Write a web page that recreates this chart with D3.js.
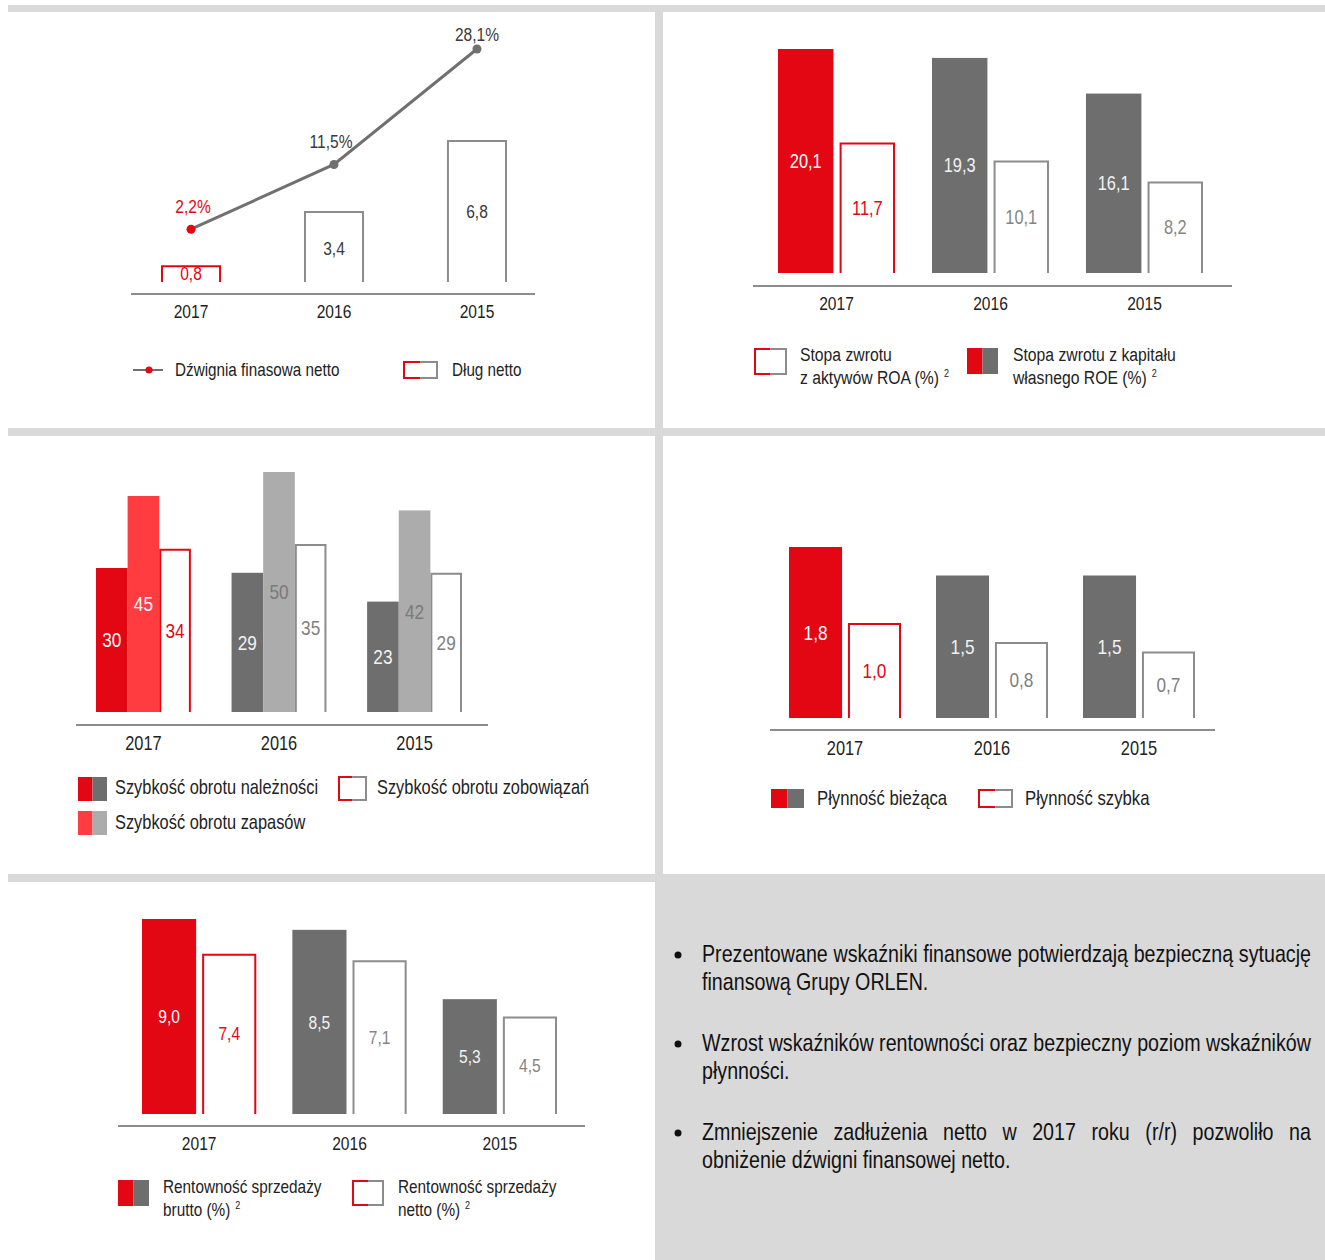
<!DOCTYPE html>
<html><head><meta charset="utf-8">
<script src="https://cdn.jsdelivr.net/npm/d3@7"></script>
<style>
html,body{margin:0;padding:0;background:#fff;}
svg text{font-family:"Liberation Sans",Arial,sans-serif;}
</style></head>
<body>
<svg id="c" width="1325" height="1260"></svg>
<script>
// ---------- DATA ----------
const years = ["2017", "2016", "2015"];
// Panel 1
const netDebt = [0.8, 3.4, 6.8];
const netLeverage = [2.2, 11.5, 28.1];
// Panel 2
const roe = [20.1, 19.3, 16.1];
const roa = [11.7, 10.1, 8.2];
// Panel 3
const receivablesTurnover = [30, 29, 23];
const inventoryTurnover = [45, 50, 42];
const payablesTurnover = [34, 35, 29];
// Panel 4
const currentLiquidity = [1.8, 1.5, 1.5];
const quickLiquidity = [1.0, 0.8, 0.7];
// Panel 5
const grossMargin = [9.0, 8.5, 5.3];
const netMargin = [7.4, 7.1, 4.5];
// Texts
const bullets = [
  ["Prezentowane wskaźniki finansowe potwierdzają bezpieczną sytuację", "finansową Grupy ORLEN."],
  ["Wzrost wskaźników rentowności oraz bezpieczny poziom wskaźników", "płynności."],
  ["Zmniejszenie zadłużenia netto w 2017 roku (r/r) pozwoliło na", "obniżenie dźwigni finansowej netto."]
];

// ---------- STYLE ----------
const RED = "#e30613", LRED = "#ff3c40", DGREY = "#6e6e6e", LGREY = "#acacac",
      OGREY = "#8c8c8c", AXIS = "#8c8c8c", TXT = "#222", BAND = "#d9d9d9";
const SX = 0.82; // horizontal condensation (Arial Narrow look)
const f1 = v => d3.format(".1f")(v).replace(".", ",");
const f0 = v => d3.format("d")(v);

const svg = d3.select("#c");

function ntext(g, x, y, size, fill, anchor) {
  return g.append("text")
    .attr("transform", `translate(${x},${y}) scale(${SX},1)`)
    .attr("font-size", size).attr("fill", fill)
    .attr("text-anchor", anchor || "start");
}

// background bands
svg.append("rect").attr("x", 8).attr("y", 5).attr("width", 1317).attr("height", 7).attr("fill", BAND);
svg.append("rect").attr("x", 655).attr("y", 12).attr("width", 8).attr("height", 1248).attr("fill", BAND);
svg.append("rect").attr("x", 8).attr("y", 428).attr("width", 1317).attr("height", 8).attr("fill", BAND);
svg.append("rect").attr("x", 8).attr("y", 874).attr("width", 1317).attr("height", 8).attr("fill", BAND);
svg.append("rect").attr("x", 655).attr("y", 874).attr("width", 670).attr("height", 386).attr("fill", BAND);

function outlinePath(g, x, w, top, base, color) {
  g.append("path")
    .attr("d", `M${x + 1},${base} L${x + 1},${top + 1} L${x + w - 1},${top + 1} L${x + w - 1},${base}`)
    .attr("fill", "#fff").attr("stroke", color).attr("stroke-width", 2);
}

function axisAndYears(x, ax0, ax1, ay, size) {
  svg.append("line").attr("x1", ax0).attr("x2", ax1).attr("y1", ay).attr("y2", ay)
    .attr("stroke", AXIS).attr("stroke-width", 2);
  const g = svg.append("g").attr("transform", `translate(0,${ay + 3})`)
    .call(d3.axisBottom(x).tickSize(0).tickPadding(8));
  g.select(".domain").remove();
  g.selectAll("text").attr("font-size", size).attr("fill", TXT)
    .attr("transform", `scale(${SX},1)`)
    .style("font-family", '"Liberation Sans",Arial,sans-serif');
}

function groupedPanel(cfg) {
  const x = d3.scaleBand().domain(years).range([cfg.x0, cfg.x1]).paddingInner(cfg.pad).paddingOuter(0);
  const inner = d3.scaleBand().domain(d3.range(cfg.series.length)).range([0, x.bandwidth()])
    .paddingInner(cfg.innerPad).paddingOuter(0);
  const y = d3.scaleLinear().domain([0, cfg.max]).range([cfg.base, cfg.top]);
  const g = svg.append("g");
  cfg.series.forEach((s, si) => {
    years.forEach((yr, i) => {
      const v = s.values[i];
      const bx = x(yr) + inner(si), bw = inner.bandwidth();
      const col = i === 0 ? s.c17 : s.cOther;
      if (s.type === "fill") {
        g.append("rect").attr("x", bx).attr("y", y(v)).attr("width", bw).attr("height", y(0) - y(v)).attr("fill", col);
      } else {
        outlinePath(g, bx, bw, y(v), y(0), col);
      }
      ntext(g, bx + bw / 2, (y(v) + y(0)) / 2, cfg.labelSize, i === 0 ? s.l17 : s.lOther, "middle")
        .attr("dy", "0.35em").text(s.fmt(v));
    });
  });
  axisAndYears(x, cfg.ax0, cfg.ax1, cfg.ay, cfg.yearSize);
  return x;
}

function legendFilled(x, y, w, h, c1, c2) {
  svg.append("rect").attr("x", x).attr("y", y).attr("width", w / 2).attr("height", h).attr("fill", c1);
  svg.append("rect").attr("x", x + w / 2).attr("y", y).attr("width", w / 2).attr("height", h).attr("fill", c2);
}
function legendOutline(x, y, w, h) {
  svg.append("rect").attr("x", x).attr("y", y).attr("width", w).attr("height", h).attr("fill", "#fff");
  const m = x + w / 2;
  svg.append("path").attr("d", `M${m},${y + 1} L${x + 1},${y + 1} L${x + 1},${y + h - 1} L${m},${y + h - 1}`)
    .attr("fill", "none").attr("stroke", RED).attr("stroke-width", 2);
  svg.append("path").attr("d", `M${m},${y + 1} L${x + w - 1},${y + 1} L${x + w - 1},${y + h - 1} L${m},${y + h - 1}`)
    .attr("fill", "none").attr("stroke", OGREY).attr("stroke-width", 2);
}
function legendText(x, y, lines, size, sup) {
  const t = ntext(svg, x, y, size, TXT);
  lines.forEach((ln, i) => {
    t.append("tspan").attr("x", 0).attr("dy", i === 0 ? 0 : 23).text(ln);
    if (sup && i === lines.length - 1) {
      t.append("tspan").attr("dx", 6).attr("dy", -7).attr("font-size", 11).text("2");
    }
  });
}

// ---------- PANEL 1 ----------
(function () {
  const x = d3.scaleBand().domain(years).range([161, 507]).paddingInner(0.58).paddingOuter(0);
  const yb = d3.scaleLinear().domain([0, 6.8]).range([282, 140]);
  const yl = d3.scaleLinear().domain([0, 28.1]).range([244.5, 49]);
  const g = svg.append("g");
  years.forEach((yr, i) => {
    const v = netDebt[i];
    outlinePath(g, x(yr), x.bandwidth(), yb(v), yb(0), i === 0 ? RED : OGREY);
    ntext(g, x(yr) + x.bandwidth() / 2, (yb(v) + yb(0)) / 2 + (i === 1 ? 2 : 0), 19, i === 0 ? RED : "#3a3a3a", "middle")
      .attr("dy", "0.35em").text(f1(v));
  });
  const cx = yr => x(yr) + x.bandwidth() / 2;
  const line = d3.line().x((d, i) => cx(years[i])).y(d => yl(d));
  g.append("path").datum(netLeverage).attr("d", line).attr("fill", "none").attr("stroke", "#707070").attr("stroke-width", 3);
  netLeverage.forEach((v, i) => {
    g.append("circle").attr("cx", cx(years[i])).attr("cy", yl(v)).attr("r", 4.5).attr("fill", i === 0 ? RED : "#707070");
    ntext(g, cx(years[i]) - (i === 1 ? 3 : 0) + (i === 0 ? 2 : 0), yl(v) - (i === 2 ? 15 : 23), 19, i === 0 ? RED : "#3a3a3a", "middle")
      .attr("dy", "0.35em").text(f1(v) + "%");
  });
  axisAndYears(x, 131, 535, 294, 19);
  svg.append("line").attr("x1", 133).attr("x2", 163).attr("y1", 370).attr("y2", 370).attr("stroke", "#707070").attr("stroke-width", 2);
  svg.append("circle").attr("cx", 149).attr("cy", 370).attr("r", 3.5).attr("fill", RED);
  legendText(175, 376, ["Dźwignia finasowa netto"], 18.6);
  legendOutline(403, 361, 35, 18);
  legendText(452, 376, ["Dług netto"], 18.6);
})();

// ---------- PANEL 2 ----------
groupedPanel({
  x0: 778, x1: 1203, pad: 0.24, innerPad: 0.1, base: 273, top: 49, max: 20.1,
  ax0: 753, ax1: 1232, ay: 286, labelSize: 20, yearSize: 19,
  series: [
    { values: roe, type: "fill", c17: RED, cOther: DGREY, l17: "#fff", lOther: "#f2f2f2", fmt: f1 },
    { values: roa, type: "outline", c17: RED, cOther: OGREY, l17: RED, lOther: "#858585", fmt: f1 }
  ]
});
legendOutline(754, 348, 33, 27);
legendText(800, 361, ["Stopa zwrotu", "z aktywów ROA (%)"], 19.2, true);
legendFilled(967, 348, 31, 26, RED, DGREY);
legendText(1013, 361, ["Stopa zwrotu z kapitału", "własnego ROE (%)"], 19.2, true);

// ---------- PANEL 3 ----------
groupedPanel({
  x0: 96, x1: 462, pad: 0.3, innerPad: 0, base: 712, top: 472, max: 50,
  ax0: 76, ax1: 488, ay: 725, labelSize: 21, yearSize: 20,
  series: [
    { values: receivablesTurnover, type: "fill", c17: RED, cOther: DGREY, l17: "#fff", lOther: "#f2f2f2", fmt: f0 },
    { values: inventoryTurnover, type: "fill", c17: LRED, cOther: LGREY, l17: "#fff", lOther: "#7a7a7a", fmt: f0 },
    { values: payablesTurnover, type: "outline", c17: RED, cOther: OGREY, l17: RED, lOther: "#808080", fmt: f0 }
  ]
});
legendFilled(78, 777, 29, 24, RED, DGREY);
legendText(115, 794, ["Szybkość obrotu należności"], 20);
legendOutline(338, 776, 29, 25);
legendText(377, 794, ["Szybkość obrotu zobowiązań"], 20);
legendFilled(78, 811, 29, 24, LRED, LGREY);
legendText(115, 829, ["Szybkość obrotu zapasów"], 20);

// ---------- PANEL 4 ----------
groupedPanel({
  x0: 789, x1: 1195, pad: 0.238, innerPad: 0.1, base: 718, top: 547, max: 1.8,
  ax0: 770, ax1: 1215, ay: 730, labelSize: 21, yearSize: 20,
  series: [
    { values: currentLiquidity, type: "fill", c17: RED, cOther: DGREY, l17: "#fff", lOther: "#f2f2f2", fmt: f1 },
    { values: quickLiquidity, type: "outline", c17: RED, cOther: OGREY, l17: RED, lOther: "#808080", fmt: f1 }
  ]
});
legendFilled(771, 789, 33, 19, RED, DGREY);
legendText(817, 805, ["Płynność bieżąca"], 20.4);
legendOutline(978, 789, 35, 19);
legendText(1025, 805, ["Płynność szybka"], 20.4);

// ---------- PANEL 5 ----------
groupedPanel({
  x0: 142, x1: 557, pad: 0.24, innerPad: 0.1, base: 1114, top: 919, max: 9.0,
  ax0: 118, ax1: 585, ay: 1126, labelSize: 19, yearSize: 19,
  series: [
    { values: grossMargin, type: "fill", c17: RED, cOther: DGREY, l17: "#fff", lOther: "#f2f2f2", fmt: f1 },
    { values: netMargin, type: "outline", c17: RED, cOther: OGREY, l17: RED, lOther: "#858585", fmt: f1 }
  ]
});
legendFilled(118, 1180, 31, 26, RED, DGREY);
legendText(163, 1193, ["Rentowność sprzedaży", "brutto (%)"], 18.7, true);
legendOutline(352, 1180, 32, 26);
legendText(398, 1193, ["Rentowność sprzedaży", "netto (%)"], 18.7, true);

// ---------- TEXT PANEL ----------
const startY = [962, 1051, 1140];
const TX = 702, TW = 609, TSIZE = 24;
bullets.forEach((b, i) => {
  svg.append("circle").attr("cx", 678).attr("cy", startY[i] - 7).attr("r", 3.5).attr("fill", "#111");
  b.forEach((ln, j) => {
    const t = ntext(svg, TX, startY[i] + j * 28, TSIZE, "#111");
    if (j === 0) {
      // justify: distribute extra space between words
      const words = ln.split(" ");
      const spans = words.map(w => t.append("tspan").text(w));
      const widths = spans.map(s => s.node().getComputedTextLength());
      const total = TW / SX;
      const gap = (total - d3.sum(widths)) / (words.length - 1);
      let cx = 0;
      spans.forEach((s, k) => { s.attr("x", cx); cx += widths[k] + gap; });
    } else {
      t.text(ln);
    }
  });
});
</script>
</body></html>
